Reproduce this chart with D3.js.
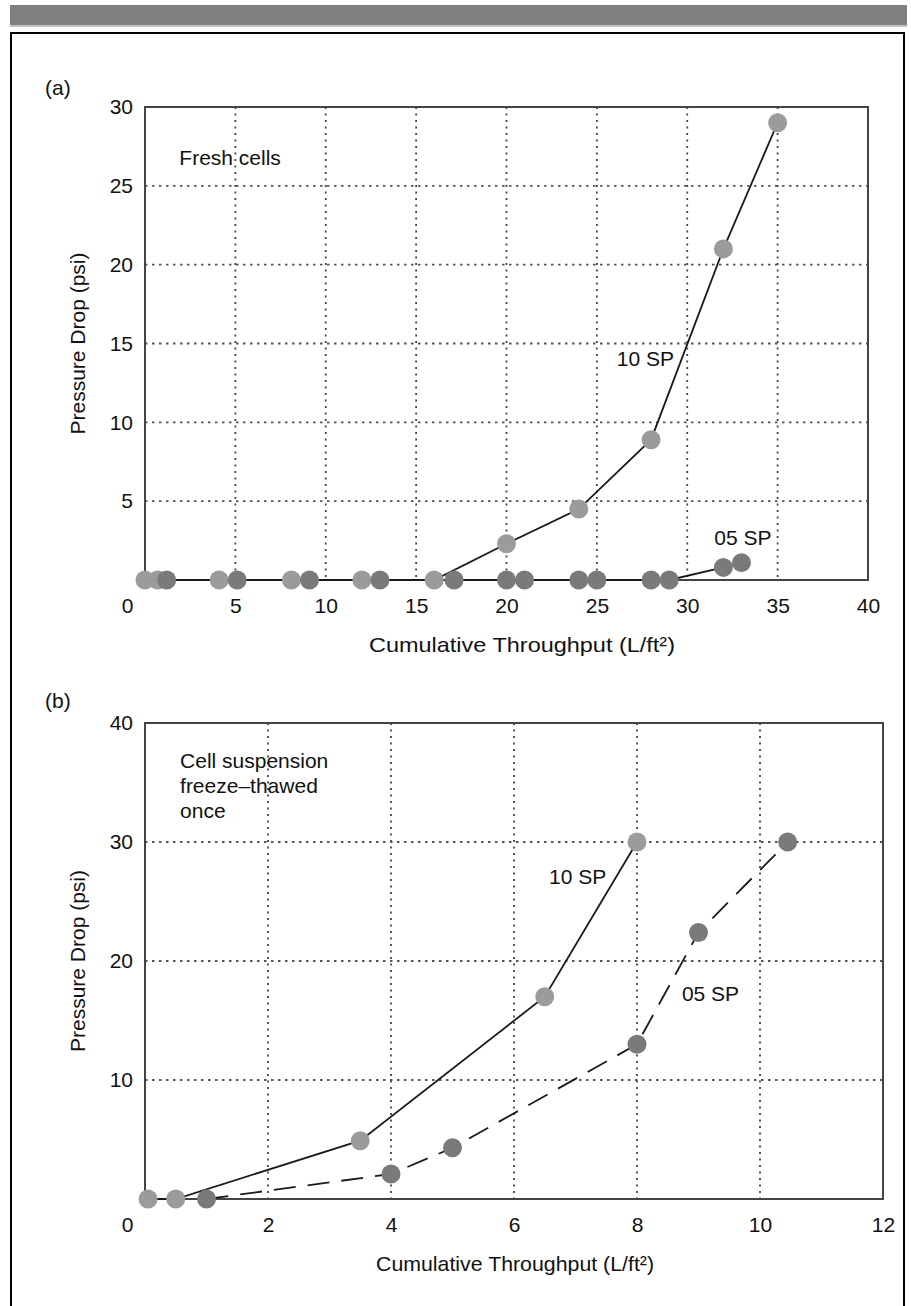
<!DOCTYPE html>
<html>
<head>
<meta charset="utf-8">
<script src="https://cdn.jsdelivr.net/npm/d3@7"></script>
<style>
  body { margin: 0; background: #fff; }
  text { font-family: "Liberation Sans", Arial, Helvetica, sans-serif; fill: #111; }
</style>
</head>
<body>
<div id="chart"></div>
<script>
// panel (a) - fresh cells
const aX10 = [0, 0.7, 4.1, 8.1, 12, 16, 20, 24, 28, 32, 35];
const aY10 = [0, 0, 0, 0, 0, 0, 2.3, 4.5, 8.9, 21, 29];
const aX05 = [1.2, 5.1, 9.1, 13, 17.1, 20, 21, 24, 25, 28, 29, 32, 33];
const aY05 = [0, 0, 0, 0, 0, 0, 0, 0, 0, 0, 0, 0.8, 1.1];
const aXTicks = [0, 5, 10, 15, 20, 25, 30, 35, 40];
const aYTicks = [5, 10, 15, 20, 25, 30];

// panel (b) - freeze-thawed once
const bX10 = [0.05, 0.5, 3.5, 6.5, 8];
const bY10 = [0, 0, 4.9, 17, 30];
const bX05 = [1, 4, 5, 8, 9, 10.45];
const bY05 = [0, 2.1, 4.3, 13, 22.4, 30];
const bXTicks = [0, 2, 4, 6, 8, 10, 12];
const bYTicks = [10, 20, 30, 40];

const xTitle = "Cumulative Throughput (L/ft²)";
const yTitle = "Pressure Drop (psi)";

const W = 911, H = 1306;
const light = "#9b9b9b", dark = "#7a7a7a";
const fs = "21px";

const svg = d3.select("#chart").append("svg")
    .attr("width", W)
    .attr("height", H);

// header bar and frame
svg.append("rect").attr("x", 10).attr("y", 5).attr("width", 897).attr("height", 20).attr("fill", "#808080");
svg.append("rect").attr("x", 10).attr("y", 25).attr("width", 897).attr("height", 2).attr("fill", "#c4c4c4");
svg.append("path")
   .attr("d", `M11,${H + 5} V33 H904 V${H + 5}`)
   .attr("fill", "none")
   .attr("stroke", "#000")
   .attr("stroke-width", 2);

function drawPanel(cfg) {
    const x = d3.scaleLinear().domain(cfg.xDomain).range([cfg.left, cfg.right]);
    const y = d3.scaleLinear().domain(cfg.yDomain).range([cfg.bottom, cfg.top]);
    const g = svg.append("g");

    // dotted grid
    g.selectAll(".vgrid")
     .data(cfg.xTicks.filter(d => d > cfg.xDomain[0] && d < cfg.xDomain[1]))
     .join("line")
     .attr("x1", d => x(d)).attr("x2", d => x(d))
     .attr("y1", cfg.top).attr("y2", cfg.bottom)
     .attr("stroke", "#444").attr("stroke-width", 1.8)
     .attr("stroke-dasharray", "2,4.5");
    g.selectAll(".hgrid")
     .data(cfg.yTicks.filter(d => d > cfg.yDomain[0] && d < cfg.yDomain[1]))
     .join("line")
     .attr("x1", cfg.left).attr("x2", cfg.right)
     .attr("y1", d => y(d)).attr("y2", d => y(d))
     .attr("stroke", "#555").attr("stroke-width", 1.8)
     .attr("stroke-dasharray", "2.5,4.5");

    // plot box
    g.append("rect")
     .attr("x", cfg.left).attr("y", cfg.top)
     .attr("width", cfg.right - cfg.left).attr("height", cfg.bottom - cfg.top)
     .attr("fill", "none").attr("stroke", "#444").attr("stroke-width", 2);

    // axes
    const xAxis = g.append("g")
     .attr("transform", `translate(0,${cfg.bottom})`)
     .call(d3.axisBottom(x).tickValues(cfg.xTicks).tickSize(0).tickPadding(18).tickFormat(d3.format("d")));
    g.append("g")
     .attr("transform", `translate(${cfg.left},0)`)
     .call(d3.axisLeft(y).tickValues(cfg.yTicks).tickSize(0).tickPadding(12).tickFormat(d3.format("d")));
    g.selectAll(".domain").remove();
    g.selectAll(".tick text")
     .attr("font-size", fs)
     .attr("font-family", "Liberation Sans, Arial, sans-serif")
     .attr("fill", "#111");
    xAxis.selectAll(".tick text").filter(d => d === 0).attr("dx", -18);

    // axis titles
    const xt = g.append("text")
     .attr("x", cfg.titleX)
     .attr("y", cfg.bottom + 72)
     .attr("font-size", fs)
     .text(xTitle);
    if (cfg.titleLen) xt.attr("textLength", cfg.titleLen).attr("lengthAdjust", "spacingAndGlyphs");
    g.append("text")
     .attr("transform", `translate(85,${(cfg.top + cfg.bottom) / 2}) rotate(-90)`)
     .attr("text-anchor", "middle")
     .attr("font-size", fs)
     .text(yTitle);

    // panel letter
    g.append("text")
     .attr("x", 45).attr("y", cfg.letterY)
     .attr("font-size", fs)
     .text(cfg.letter);

    // series lines
    const line = d3.line().x(d => x(d[0])).y(d => y(d[1]));
    cfg.series.forEach(s => {
        g.append("path")
         .datum(d3.zip(s.xs, s.ys))
         .attr("d", line)
         .attr("fill", "none")
         .attr("stroke", "#1a1a1a")
         .attr("stroke-width", 1.8)
         .attr("stroke-dasharray", s.dash || null);
    });
    // markers
    cfg.series.forEach(s => {
        g.selectAll(null)
         .data(d3.zip(s.xs, s.ys))
         .join("circle")
         .attr("cx", d => x(d[0]))
         .attr("cy", d => y(d[1]))
         .attr("r", 9.5)
         .attr("fill", s.color);
    });

    // annotations
    cfg.notes.forEach(n => {
        const t = g.append("text")
         .attr("x", x(n.x)).attr("y", y(n.y))
         .attr("font-size", fs);
        n.lines.forEach((ln, i) => {
            t.append("tspan").attr("x", x(n.x)).attr("dy", i === 0 ? 0 : 25).text(ln);
        });
    });
}

drawPanel({
    letter: "(a)", letterY: 95,
    left: 145, right: 868, top: 107, bottom: 580,
    xDomain: [0, 40], yDomain: [0, 30],
    xTicks: aXTicks, yTicks: aYTicks,
    titleX: 369, titleLen: 306,
    series: [
        { xs: aX10, ys: aY10, color: light },
        { xs: aX05, ys: aY05, color: dark }
    ],
    notes: [
        { x: 1.9, y: 26.3, lines: ["Fresh cells"] },
        { x: 26.1, y: 13.6, lines: ["10 SP"] },
        { x: 31.5, y: 2.2, lines: ["05 SP"] }
    ]
});

drawPanel({
    letter: "(b)", letterY: 708,
    left: 145, right: 883, top: 723, bottom: 1199,
    xDomain: [0, 12], yDomain: [0, 40],
    xTicks: bXTicks, yTicks: bYTicks,
    titleX: 376, titleLen: 278,
    series: [
        { xs: bX10, ys: bY10, color: light },
        { xs: bX05, ys: bY05, color: dark, dash: "22,12" }
    ],
    notes: [
        { x: 0.57, y: 36.2, lines: ["Cell suspension", "freeze\u2013thawed", "once"] },
        { x: 6.57, y: 26.5, lines: ["10 SP"] },
        { x: 8.73, y: 16.6, lines: ["05 SP"] }
    ]
});
</script>
</body>
</html>
